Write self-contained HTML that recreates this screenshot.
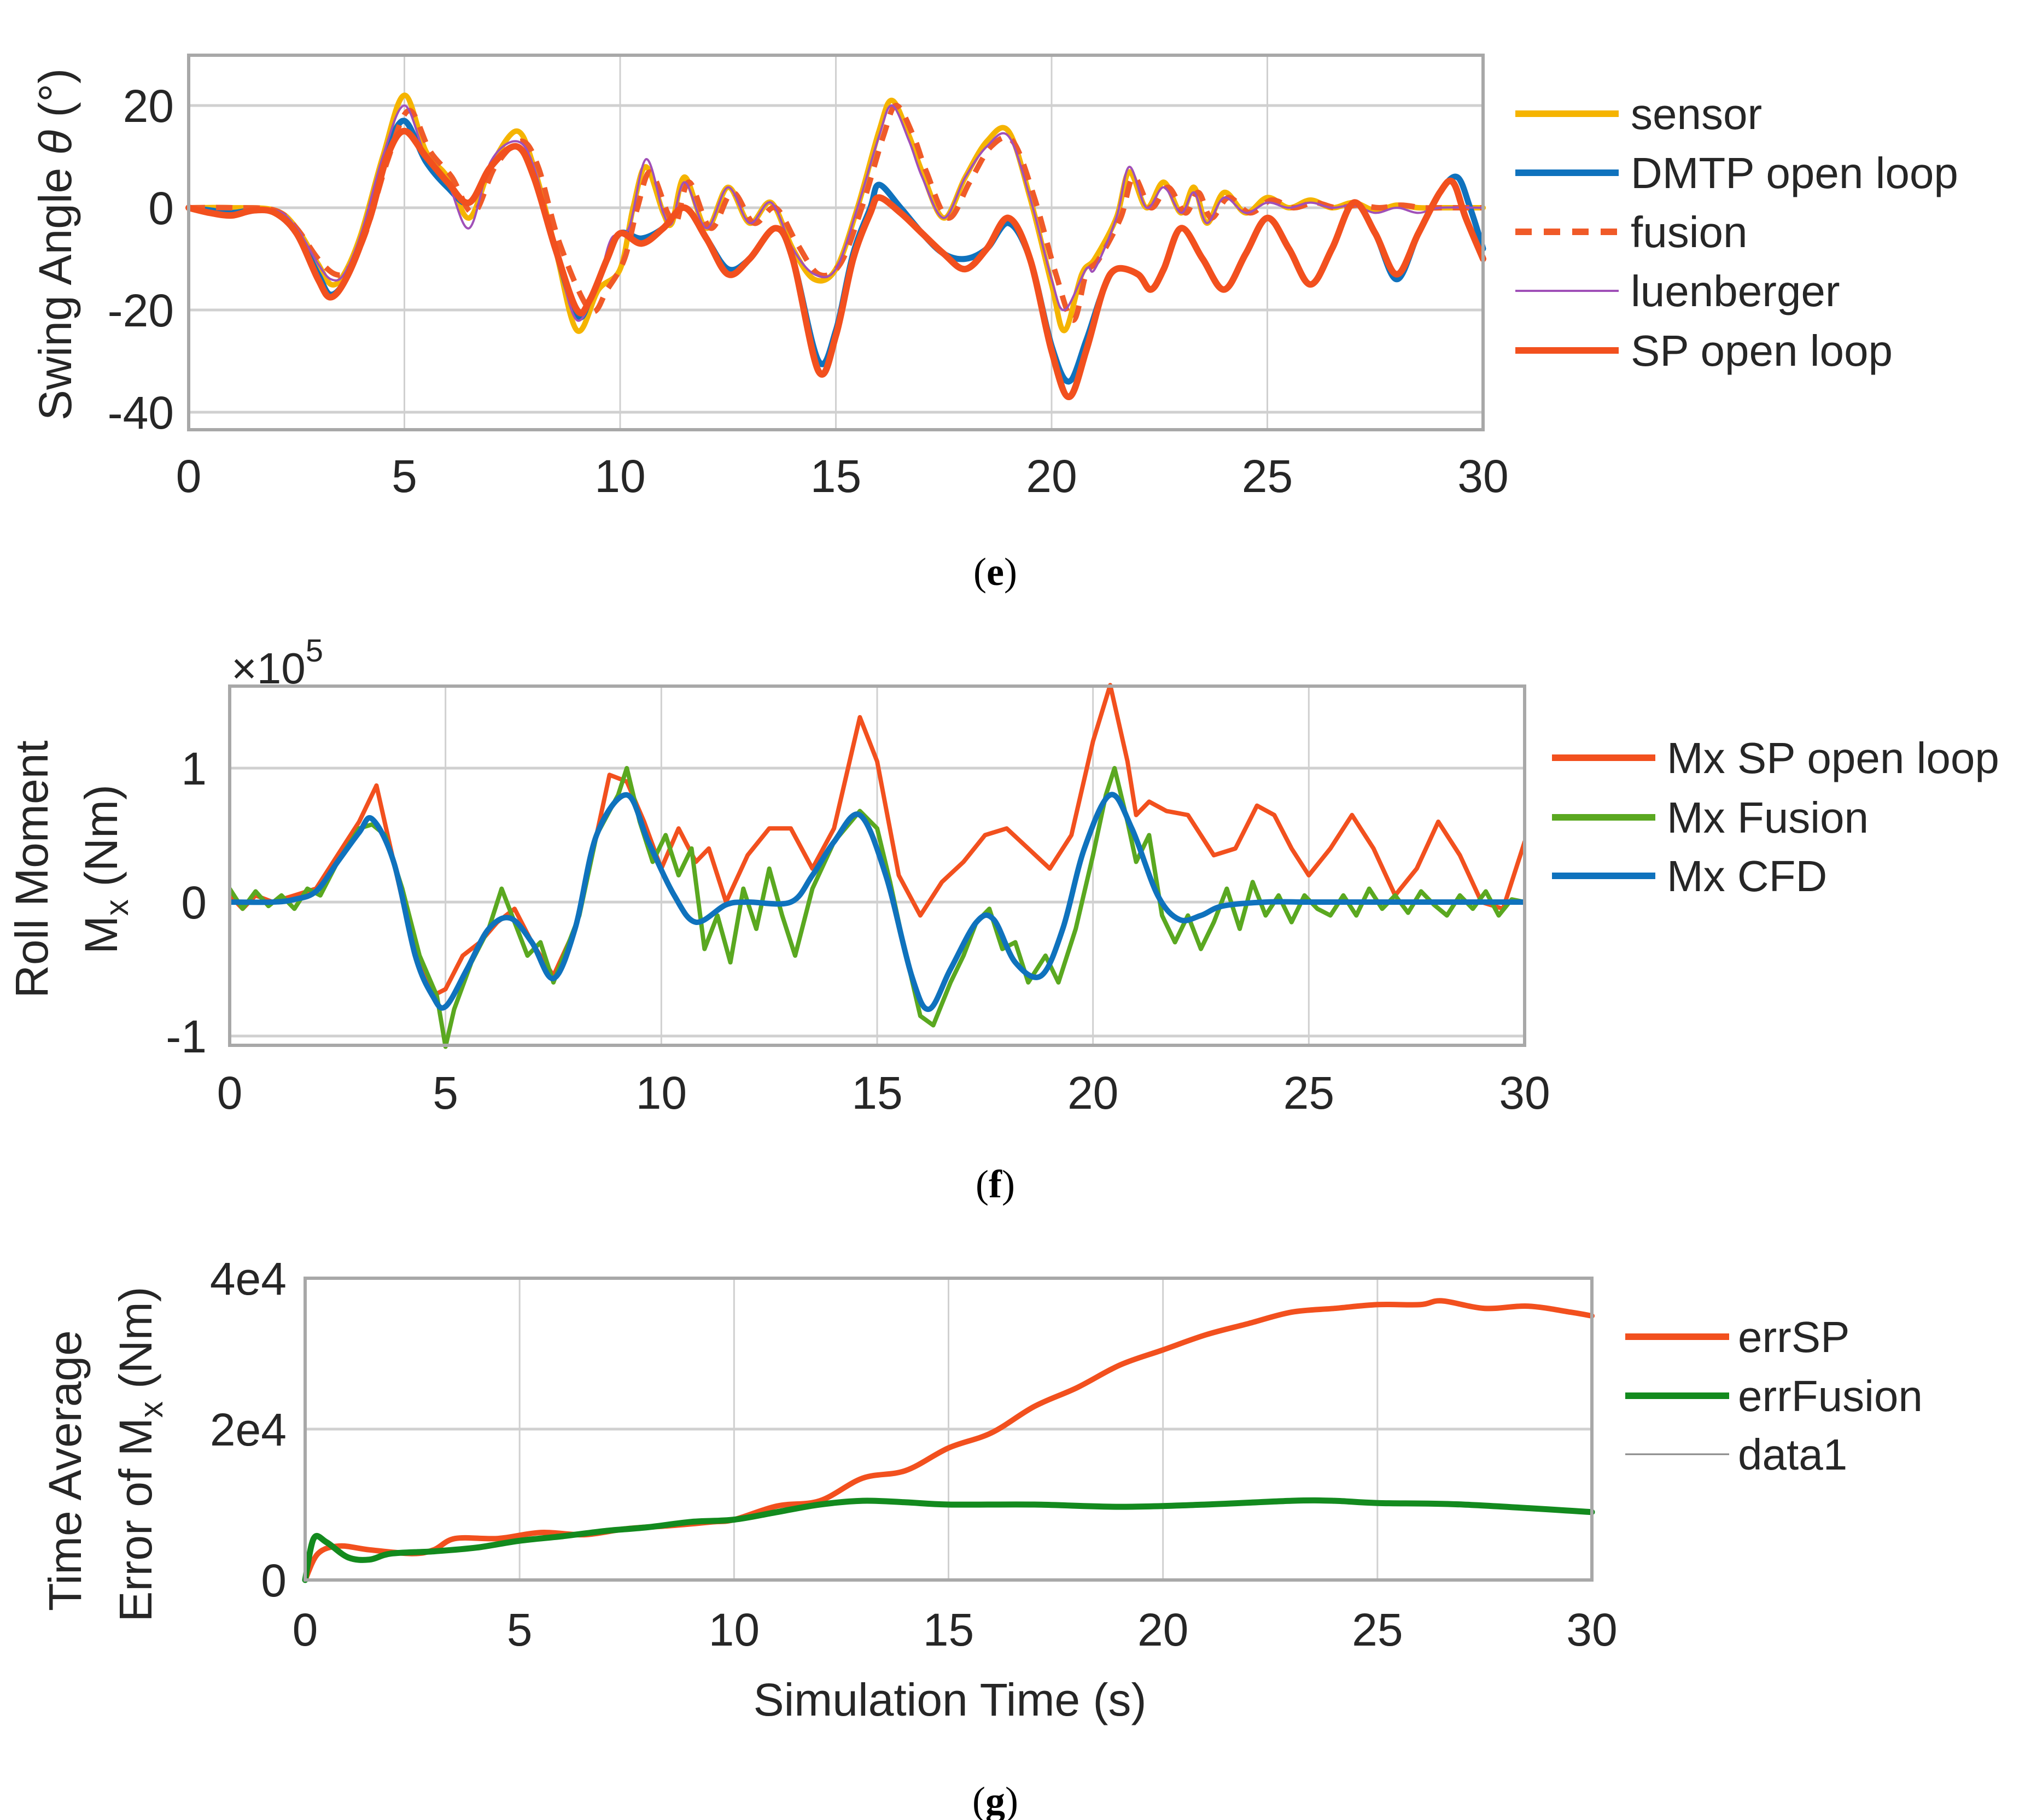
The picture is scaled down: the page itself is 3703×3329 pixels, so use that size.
<!DOCTYPE html>
<html><head><meta charset="utf-8"><style>
html,body{margin:0;padding:0;background:#fff;}
svg{display:block;font-family:"Liberation Sans",sans-serif;}
</style></head><body>
<svg id="fig" width="3703" height="3329" viewBox="0 0 3703 3329" xmlns="http://www.w3.org/2000/svg"></svg>
<script>
// ---------- Panel (e) data ----------
const eSP_t=[0,0.5,1,1.5,2,2.5,3,3.3,3.7,4.2,4.6,5,5.5,6,6.5,7,7.6,8,8.5,9,9.3,9.7,10,10.5,11,11.5,12,12.5,13,13.6,14,14.6,15,15.4,15.8,16,16.5,17,17.5,18,18.5,19,19.5,20,20.4,20.8,21.2,21.5,22,22.3,22.6,23,23.5,24,24.5,25,25.5,26,26.5,27,27.5,28,28.5,29,29.3,29.6,30];
const eSP_v=[0,-1,-1.5,-0.5,-1,-5,-14,-17.5,-13,-2,10,15,10,5,1,8,12,6,-8,-20,-18,-10,-5,-7,-4,0,-6,-13,-10,-4,-10,-32,-25,-10,-1,2,-1,-5,-9,-12,-8,-2,-10,-28,-37,-28,-16,-12,-13,-16,-12,-4,-10,-16,-9,-2,-8,-15,-8,1,-5,-13,-5,3,5,-2,-10];
const eDM_t=[0,0.5,1,1.5,2,2.5,3,3.3,3.7,4.2,4.6,5,5.5,6,6.5,7,7.6,8,8.5,9,9.3,9.7,10,10.5,11,11.5,12,12.5,13,13.6,14,14.6,15,15.4,15.8,16,16.5,17,17.5,18,18.5,19,19.5,20,20.4,20.8,21.2,21.5,22,22.3,22.6,23,23.5,24,24.5,25,25.5,26,26.5,27,27.5,28,28.5,29,29.4,29.7,30];
const eDM_v=[0,-0.5,-1,-0.5,-1,-5,-13,-17,-13,-1,11,17,9,4,1,8,12,6,-8,-21,-18,-10,-5,-6,-4,0,-6,-12,-10,-4,-10,-30,-24,-9,0,4.5,0,-5,-9,-10,-8,-3,-10,-27,-34,-26,-16,-12,-13,-16,-12,-4,-10,-16,-9,-2,-8,-15,-8,1,-5,-14,-5,3,6,0,-8];
const eSE_t=[0,1,2,2.5,3,3.3,3.6,4,4.5,5,5.5,6,6.5,7,7.6,8,8.5,9,9.5,10,10.3,10.6,11,11.2,11.5,12,12.5,13,13.5,14,14.5,15,15.5,16,16.3,16.7,17,17.5,18,18.5,19,19.5,20,20.3,20.7,21,21.5,21.8,22.2,22.6,23,23.3,23.6,24,24.5,25,25.5,26,26.5,27,27.5,28,28.5,29,30];
const eSE_v=[0,0,-0.5,-4,-11,-15,-13,-5,10,22,11,6,-2,8,15,8,-8,-24,-16,-12,0,8,-1,-3,6,-4,4,-3,1,-8,-14,-12,0,15,21,14,7,-2,6,13,15,2,-15,-24,-13,-10,-2,7,0,5,-1,4,-3,3,-1,2,0,1.5,0,1,-0.5,0.5,0,0,0];
const eFU_t=[0,1,2,2.5,3,3.4,3.7,4.1,4.6,5.1,5.6,6.1,6.6,7.1,7.7,8.1,8.6,9.3,9.7,10.1,10.4,10.7,11.1,11.3,11.6,12.1,12.6,13.1,13.6,14.1,14.6,15.1,15.6,16.1,16.4,16.8,17.1,17.6,18.1,18.6,19.1,19.6,20.1,20.5,20.8,21.1,21.6,21.9,22.3,22.7,23.1,23.4,23.7,24.1,24.6,25.1,25.6,26.1,26.6,27.1,27.6,28.1,28.6,29.1,30];
const eFU_v=[0,0,-0.5,-4,-10,-13,-12,-5,9,19,11,6,-1,8,13,8,-7,-20,-16,-10,0,7,-1,-3,5,-4,3,-3,0,-7,-13,-11,0,14,20,14,7,-2,5,12,13,2,-13,-22,-13,-10,-2,6,0,4,-1,3,-2,2,-1,1.5,0,1,0,0.5,0,0.5,0,0,0];
const eLU_t=[0,1,2,2.5,3,3.3,3.6,4,4.5,5,5.5,6,6.5,7,7.6,8,8.5,9,9.5,9.8,10.2,10.6,11,11.2,11.5,12,12.5,13,13.5,14,14.5,15,15.5,16,16.3,16.7,17,17.5,18,18.5,19,19.5,20,20.3,20.8,21,21.5,21.8,22.2,22.6,23,23.3,23.6,24,24.5,25,25.5,26,26.5,27,27.5,28,28.5,29,30];
const eLU_v=[0,-1.5,-0.5,-4,-11,-14,-13,-5,10,20,10,5,-4,9,13,8,-8,-22,-14,-6,-4,9.5,-1,-3,5,-4,4,-3,1,-8,-13,-12,0,14,20,13,6,-2,6,12,14,2,-14,-20,-12,-12,-2,8,0,4,-1,3,-3,2,-1,1,0,1,0,0.5,-1,0,-1,0,0];
const eXTicks=[0,5,10,15,20,25,30];
const eYTicks=[20,0,-20,-40];
const eYTickLabels=["20","0","-20","-40"];
// ---------- Panel (f) data (x1e5) ----------
const fCFD_t=[0,1,1.5,2,2.5,3,3.3,3.8,4.3,4.7,5,5.5,6,6.5,7,7.5,8,8.5,9.2,9.7,10.3,10.8,11.5,12,13,13.5,14,14.6,15.2,15.8,16.2,16.7,17.3,17.7,18.2,18.8,19.3,19.8,20.4,20.9,21.5,22,22.5,23,24,25,26,27,28,29,30];
const fCFD_v=[0,0,0.02,0.08,0.3,0.52,0.62,0.3,-0.4,-0.7,-0.78,-0.5,-0.2,-0.12,-0.3,-0.57,-0.2,0.5,0.8,0.45,0.05,-0.15,-0.02,0,0,0.2,0.45,0.65,0.2,-0.55,-0.8,-0.5,-0.15,-0.13,-0.45,-0.55,-0.2,0.4,0.8,0.55,0.05,-0.13,-0.1,-0.03,0,0,0,0,0,0,0];
const fFU_t=[0,0.3,0.6,0.9,1.2,1.5,1.8,2.1,2.5,3,3.3,3.6,4,4.4,4.8,5,5.2,5.6,6,6.3,6.6,6.9,7.2,7.5,7.8,8.1,8.5,9,9.2,9.5,9.8,10.1,10.4,10.7,11,11.3,11.6,11.9,12.2,12.5,12.8,13.1,13.5,14,14.6,15,15.3,15.6,16,16.3,16.7,17,17.3,17.6,17.9,18.2,18.5,18.9,19.2,19.6,20,20.3,20.5,20.8,21,21.3,21.6,21.9,22.2,22.5,22.8,23.1,23.4,23.7,24,24.3,24.6,24.9,25.2,25.5,25.8,26.1,26.4,26.7,27,27.3,27.6,27.9,28.2,28.5,28.8,29.1,29.4,29.7,30];
const fFU_v=[0.1,-0.05,0.08,-0.03,0.05,-0.05,0.1,0.05,0.3,0.55,0.58,0.5,0.1,-0.4,-0.7,-1.08,-0.8,-0.45,-0.2,0.1,-0.15,-0.4,-0.3,-0.6,-0.35,-0.1,0.5,0.8,1.0,0.6,0.3,0.5,0.2,0.4,-0.35,-0.1,-0.45,0.1,-0.2,0.25,-0.1,-0.4,0.1,0.45,0.68,0.55,0.15,-0.3,-0.85,-0.92,-0.6,-0.4,-0.15,-0.05,-0.35,-0.3,-0.6,-0.4,-0.6,-0.2,0.35,0.8,1.0,0.6,0.3,0.5,-0.1,-0.3,-0.1,-0.35,-0.15,0.1,-0.2,0.15,-0.1,0.05,-0.15,0.05,-0.05,-0.1,0.05,-0.1,0.1,-0.05,0.05,-0.08,0.08,-0.02,-0.1,0.05,-0.05,0.08,-0.1,0.02,0];
const fSP_t=[0,0.3,0.6,1,1.5,2,2.5,3,3.4,3.8,4.3,4.7,5,5.4,5.8,6.2,6.6,7,7.5,8,8.5,8.8,9.2,9.6,10,10.4,10.8,11.1,11.5,12,12.5,13,13.5,14,14.6,15,15.5,16,16.5,17,17.5,18,18.5,19,19.5,20,20.4,20.8,21,21.3,21.7,22.2,22.8,23.3,23.8,24.2,24.6,25,25.5,26,26.5,27,27.5,28,28.5,29,29.5,30];
const fSP_v=[0.05,-0.05,0.05,0,0.05,0.1,0.35,0.6,0.87,0.3,-0.4,-0.7,-0.65,-0.4,-0.3,-0.15,-0.05,-0.3,-0.55,-0.2,0.5,0.95,0.9,0.6,0.25,0.55,0.3,0.4,0,0.35,0.55,0.55,0.25,0.55,1.38,1.05,0.2,-0.1,0.15,0.3,0.5,0.55,0.4,0.25,0.5,1.2,1.62,1.05,0.65,0.75,0.68,0.65,0.35,0.4,0.72,0.65,0.4,0.2,0.4,0.65,0.4,0.05,0.25,0.6,0.35,0,-0.05,0.45];
const fXTicks=[0,5,10,15,20,25,30];
const fYTicks=[1,0,-1];
const fYTickLabels=["1","0","-1"];
// ---------- Panel (g) data ----------
const gSP_t=[0,0.3,0.8,1.5,2.5,3,3.5,4.5,5.5,6.5,7.5,8.5,9.5,10,11,12,13,14,15,16,17,18,19,20,21,22,23,24,25,26,26.5,27.5,28.5,29.5,30];
const gSP_v=[0,3500,4500,4000,3500,4000,5500,5500,6300,6000,6800,7200,7700,8000,9800,10500,13500,14500,17500,19500,23000,25500,28500,30500,32500,34000,35500,36000,36500,36500,37000,36000,36300,35500,35000];
const gFU_t=[0,0.2,0.5,1,1.5,2,3,4,5,6,7,8,9,10,11,12,13,14,15,17,19,21,23,24,25,27,30];
const gFU_v=[0,5500,5000,3000,2700,3500,3800,4300,5200,5800,6500,7000,7700,8000,9000,10000,10500,10300,10000,10000,9700,10000,10500,10500,10200,10000,9000];
const gXTicks=[0,5,10,15,20,25,30];
const gYTicks=[40000,20000,0];
const gYTickLabels=["4e4","2e4","0"];

const NS="http://www.w3.org/2000/svg";
const svg=document.getElementById('fig');
function mk(tag,attrs,parent){const e=document.createElementNS(NS,tag);for(const k in attrs)e.setAttribute(k,attrs[k]);(parent||svg).appendChild(e);return e;}
function scaler(d0,d1,p0,p1){return v=>p0+(v-d0)/(d1-d0)*(p1-p0);}
function smoothPath(pts){
  let d="M"+pts[0][0].toFixed(1)+","+pts[0][1].toFixed(1);
  for(let i=0;i<pts.length-1;i++){
    const p0=pts[i-1]||pts[i],p1=pts[i],p2=pts[i+1],p3=pts[i+2]||p2;
    const c1=[p1[0]+(p2[0]-p0[0])/6,p1[1]+(p2[1]-p0[1])/6];
    const c2=[p2[0]-(p3[0]-p1[0])/6,p2[1]-(p3[1]-p1[1])/6];
    d+="C"+c1[0].toFixed(1)+","+c1[1].toFixed(1)+" "+c2[0].toFixed(1)+","+c2[1].toFixed(1)+" "+p2[0].toFixed(1)+","+p2[1].toFixed(1);
  }
  return d;
}
function linePath(pts){return "M"+pts.map(p=>p[0].toFixed(1)+","+p[1].toFixed(1)).join("L");}

function axes(g,x0,x1,y0,y1,sx,sy,xt,yt,ytl,yLabelRight,xLabelY,name){
  for(const t of xt){const X=sx(t);
    const l=mk('line',{x1:X,x2:X,y1:y0,y2:y1,stroke:'#d0d0d0','stroke-width':3},g);
    
    const tx=mk('text',{x:X,y:xLabelY,'text-anchor':'middle','font-size':84,fill:'#262626'},g);tx.textContent=t;
    
  }
  yt.forEach((t,i)=>{const Y=sy(t);
    const l=mk('line',{x1:x0,x2:x1,y1:Y,y2:Y,stroke:'#d0d0d0','stroke-width':5},g);
    
    const tx=mk('text',{x:yLabelRight,y:Y+30,'text-anchor':'end','font-size':84,fill:'#262626'},g);tx.textContent=ytl[i];
    
  });
}
function box(g,x0,x1,y0,y1,name){
  const r=mk('rect',{x:x0,y:y0,width:x1-x0,height:y1-y0,fill:'none',stroke:'#a8a8a8','stroke-width':6},g);
  
}
function series(g,ts,vs,sx,sy,style,smooth,name){
  const pts=ts.map((t,i)=>[sx(t),sy(vs[i])]);
  const p=mk('path',Object.assign({d:smooth?smoothPath(pts):linePath(pts),fill:'none','stroke-linejoin':'round','stroke-linecap':'round'},style),g);
  
}
function legend(g,items,lx0,lx1,tx,ys,fs,name){
  items.forEach((it,i)=>{
    const l=mk('line',Object.assign({x1:lx0,x2:lx1,y1:ys[i],y2:ys[i]},it.style),g);
    
    const t=mk('text',{x:tx,y:ys[i]+28,'font-size':fs,fill:'#262626'},g);t.textContent=it.label;
    
  });
}
function caption(txt,x,y,name){
  const t=mk('text',{x:x,y:y,'text-anchor':'middle','font-size':72,'font-family':'Liberation Serif, serif',fill:'#000'});
  t.innerHTML='(<tspan font-weight="bold">'+txt+'</tspan>)';
  
}

// ---- Panel e ----
{
const g=mk('g',{});
const x0=345,x1=2712,y0=101,y1=786;
const sx=scaler(0,30,x0,x1), sy=scaler(0,20,380,193);
axes(g,x0,x1,y0,y1,sx,sy,eXTicks,eYTicks,eYTickLabels,318,900,'panel-e');
series(g,eSE_t,eSE_v,sx,sy,{stroke:'#f5b400','stroke-width':10},true,'sensor-line');
series(g,eDM_t,eDM_v,sx,sy,{stroke:'#0f72bd','stroke-width':11},true,'dmtp-open-loop-line');
series(g,eFU_t,eFU_v,sx,sy,{stroke:'#f05a28','stroke-width':10,'stroke-dasharray':'30,20','stroke-linecap':'butt'},true,'fusion-line');
series(g,eLU_t,eLU_v,sx,sy,{stroke:'#a050b8','stroke-width':4},true,'luenberger-line');
series(g,eSP_t,eSP_v,sx,sy,{stroke:'#f2501e','stroke-width':12},true,'sp-open-loop-line');
box(g,x0,x1,y0,y1,'panel-e');
const yl=mk('text',{x:0,y:0,transform:'translate(130,447) rotate(-90)','text-anchor':'middle','font-size':84,fill:'#262626'},g);
yl.innerHTML='Swing Angle <tspan font-style="italic">θ</tspan> (°)';

legend(g,[
 {label:'sensor',style:{stroke:'#f5b400','stroke-width':12}},
 {label:'DMTP open loop',style:{stroke:'#0f72bd','stroke-width':12}},
 {label:'fusion',style:{stroke:'#f05a28','stroke-width':12,'stroke-dasharray':'30,22'}},
 {label:'luenberger',style:{stroke:'#a050b8','stroke-width':4}},
 {label:'SP open loop',style:{stroke:'#f2501e','stroke-width':12}}
],2771,2960,2982,[208,316,424,532,641],80,'panel-e');
caption('e',1820,1070,'panel-e-caption');
}
// ---- Panel f ----
{
const g=mk('g',{});
const x0=420,x1=2788,y0=1255,y1=1912;
const sx=scaler(0,30,x0,x1), sy=scaler(0,1,1650,1405);
axes(g,x0,x1,y0,y1,sx,sy,fXTicks,fYTicks,fYTickLabels,378,2028,'panel-f');
const cp=mk('clipPath',{id:'clipf'},g);mk('rect',{x:x0,y:y0-10,width:x1-x0,height:y1-y0+20},cp);
const gg=mk('g',{'clip-path':'url(#clipf)'},g);
series(gg,fSP_t,fSP_v,sx,sy,{stroke:'#f2501e','stroke-width':8},false,'mx-sp-open-loop-line');
series(gg,fFU_t,fFU_v,sx,sy,{stroke:'#5aa820','stroke-width':8},false,'mx-fusion-line');
series(gg,fCFD_t,fCFD_v,sx,sy,{stroke:'#0f72bd','stroke-width':10},true,'mx-cfd-line');
box(g,x0,x1,y0,y1,'panel-f');
const ex=mk('text',{x:423,y:1250,'font-size':80,fill:'#262626'},g);
ex.innerHTML='×10<tspan font-size="58" dy="-40">5</tspan>';

const yl1=mk('text',{x:0,y:0,transform:'translate(87,1590) rotate(-90)','text-anchor':'middle','font-size':84,fill:'#262626'},g);
yl1.textContent='Roll Moment';

const yl2=mk('text',{x:0,y:0,transform:'translate(214,1590) rotate(-90)','text-anchor':'middle','font-size':84,fill:'#262626'},g);
yl2.innerHTML='M<tspan font-size="60" dy="20">x</tspan><tspan dy="-20">  (Nm)</tspan>';

legend(g,[
 {label:'Mx SP open loop',style:{stroke:'#f2501e','stroke-width':12}},
 {label:'Mx Fusion',style:{stroke:'#5aa820','stroke-width':12}},
 {label:'Mx CFD',style:{stroke:'#0f72bd','stroke-width':12}}
],2838,3027,3048,[1386,1495,1602],80,'panel-f');
caption('f',1820,2190,'panel-f-caption');
}
// ---- Panel g ----
{
const g=mk('g',{});
const x0=558,x1=2911,y0=2338,y1=2890;
const sx=scaler(0,30,x0,x1), sy=scaler(0,40000,2890,2338);
axes(g,x0,x1,y0,y1,sx,sy,gXTicks,gYTicks,gYTickLabels,524,3010,'panel-g');
series(g,gSP_t,gSP_v,sx,sy,{stroke:'#f2501e','stroke-width':10},true,'err-sp-line');
series(g,gFU_t,gFU_v,sx,sy,{stroke:'#138a1e','stroke-width':11},true,'err-fusion-line');
box(g,x0,x1,y0,y1,'panel-g');
const xl=mk('text',{x:1737,y:3138,'text-anchor':'middle','font-size':84,fill:'#262626'},g);
xl.textContent='Simulation Time (s)';

const yl1=mk('text',{x:0,y:0,transform:'translate(148,2690) rotate(-90)','text-anchor':'middle','font-size':84,fill:'#262626'},g);
yl1.textContent='Time Average';

const yl2=mk('text',{x:0,y:0,transform:'translate(277,2660) rotate(-90)','text-anchor':'middle','font-size':84,fill:'#262626'},g);
yl2.innerHTML='Error of M<tspan font-size="60" dy="20">x</tspan><tspan dy="-20">  (Nm)</tspan>';

legend(g,[
 {label:'errSP',style:{stroke:'#f2501e','stroke-width':12}},
 {label:'errFusion',style:{stroke:'#138a1e','stroke-width':12}},
 {label:'data1',style:{stroke:'#888','stroke-width':3}}
],2972,3162,3178,[2445,2553,2660],80,'panel-g');
caption('g',1820,3318,'panel-g-caption');
}
</script>
</body></html>
